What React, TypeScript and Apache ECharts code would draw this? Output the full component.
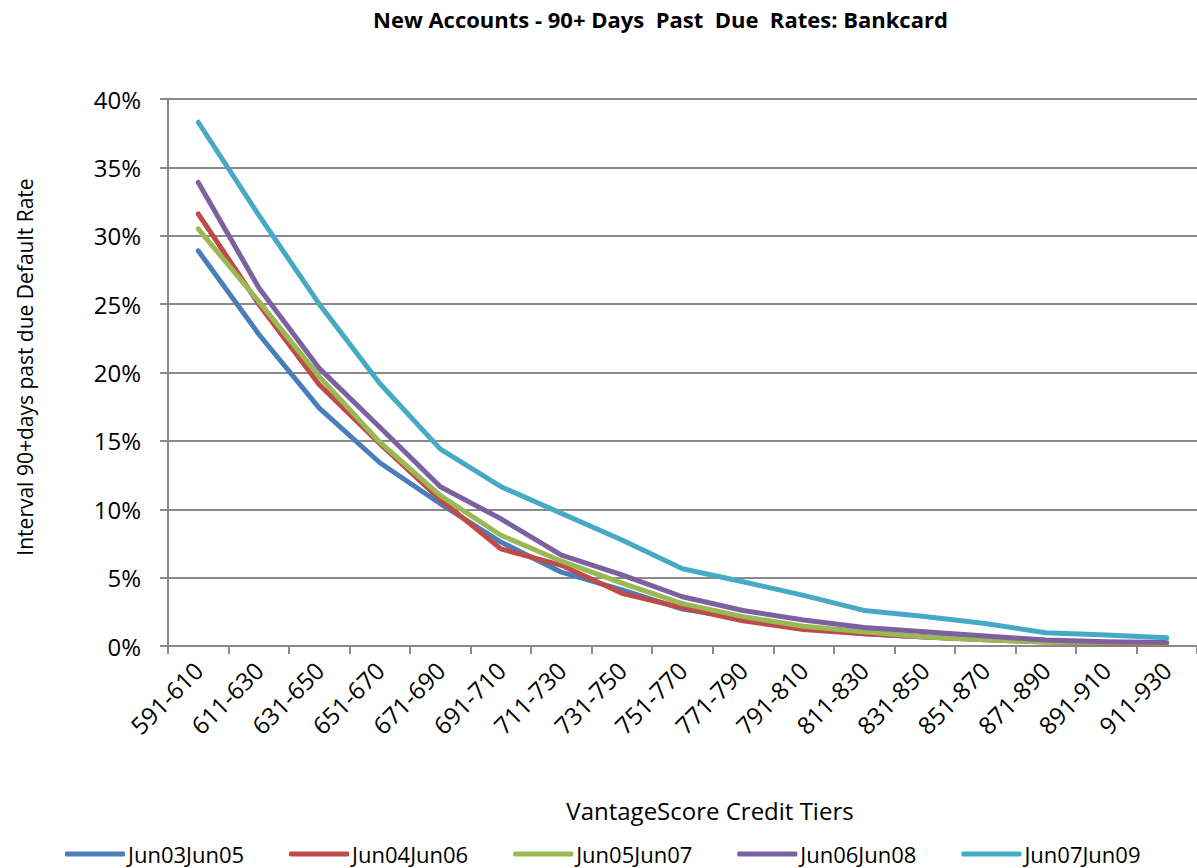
import React, { useEffect, useRef } from "react";
import * as echarts from "echarts";

const categories = [
  "591-610", "611-630", "631-650", "651-670", "671-690", "691-710", "711-730",
  "731-750", "751-770", "771-790", "791-810", "811-830", "831-850", "851-870",
  "871-890", "891-910", "911-930",
];
const seriesNames = ["Jun03Jun05", "Jun04Jun06", "Jun05Jun07", "Jun06Jun08", "Jun07Jun09"];
const jun03Jun05 = [28.9, 22.8, 17.4, 13.4, 10.4, 7.6, 5.4, 4.1, 2.7, 2.0, 1.3, 0.9, 0.65, 0.5, 0.35, 0.25, 0.2];
const jun04Jun06 = [31.6, 25.0, 19.1, 14.8, 10.7, 7.1, 5.9, 3.85, 2.8, 1.85, 1.2, 0.9, 0.65, 0.45, 0.3, 0.2, 0.15];
const jun05Jun07 = [30.5, 25.2, 19.7, 14.9, 11.0, 8.1, 6.2, 4.6, 3.1, 2.15, 1.45, 1.05, 0.65, 0.45, 0.3, 0.25, 0.2];
const jun06Jun08 = [33.9, 26.2, 20.3, 16.0, 11.65, 9.3, 6.65, 5.2, 3.6, 2.6, 1.9, 1.35, 1.05, 0.73, 0.44, 0.31, 0.25];
const jun07Jun09 = [38.3, 31.5, 25.0, 19.2, 14.4, 11.65, 9.7, 7.75, 5.65, 4.7, 3.7, 2.6, 2.15, 1.65, 0.97, 0.8, 0.6];
const seriesData = [jun03Jun05, jun04Jun06, jun05Jun07, jun06Jun08, jun07Jun09];
const colors = ["#4a7ebb", "#be4b48", "#98b954", "#7d60a0", "#46aac5"];

const FONT = "'Open Sans', 'Noto Sans', sans-serif";

export default function App() {
  const ref = useRef<HTMLDivElement>(null);
  useEffect(() => {
    if (!ref.current) return;
    const chart = echarts.init(ref.current, undefined, { renderer: "svg" });
    const gridColor = "#8a8a8a";
    chart.setOption({
      animation: false,
      backgroundColor: "#ffffff",
      textStyle: { fontFamily: FONT },
      title: {
        text: "New Accounts - 90+ Days  Past  Due  Rates: Bankcard",
        left: 373,
        top: 8,
        padding: 0,
        textStyle: { fontFamily: FONT, fontSize: 22, fontWeight: "bold", color: "#000" },
      },
      grid: { left: 168, top: 99, width: 1044, height: 547, containLabel: false },
      xAxis: {
        type: "category",
        data: categories,
        boundaryGap: true,
        axisLine: { show: true, lineStyle: { color: gridColor, width: 2 } },
        axisTick: { show: true, alignWithLabel: false, length: 8, lineStyle: { color: gridColor, width: 2 } },
        axisLabel: { rotate: 45, fontSize: 24, color: "#000", margin: 20, fontFamily: FONT, interval: 0 },
        splitLine: { show: false },
      },
      yAxis: {
        type: "value",
        min: 0,
        max: 40,
        interval: 5,
        axisLine: { show: true, lineStyle: { color: gridColor, width: 2 } },
        axisTick: { show: true, length: 8, lineStyle: { color: gridColor, width: 2 } },
        axisLabel: { formatter: "{value}%", fontSize: 24, color: "#000", margin: 27, fontFamily: FONT },
        splitLine: { show: true, lineStyle: { color: gridColor, width: 2 } },
      },
      legend: {
        left: 65,
        top: 843,
        padding: 0,
        icon: "roundRect",
        itemWidth: 60,
        itemHeight: 5,
        itemGap: 45,
        textStyle: { fontSize: 22, lineHeight: 22, color: "#000", fontFamily: FONT, padding: [0, 0, 0, -2] },
        data: seriesNames,
      },
      graphic: [
        {
          type: "text",
          x: 710,
          y: 810,
          style: { text: "VantageScore Credit Tiers", fontSize: 24, fill: "#000", fontFamily: FONT, align: "center", verticalAlign: "middle" },
        },
        {
          type: "text",
          x: 25,
          y: 367,
          rotation: Math.PI / 2,
          style: { text: "Interval 90+days past due Default Rate", fontSize: 21, fill: "#000", fontFamily: FONT, align: "center", verticalAlign: "middle" },
        },
      ],
      series: seriesNames.map((name, i) => ({
        name,
        type: "line",
        data: seriesData[i],
        symbol: "none",
        smooth: false,
        lineStyle: { width: 5, color: colors[i], cap: "round", join: "round" },
        itemStyle: { color: colors[i] },
      })),
    });
    return () => chart.dispose();
  }, []);
  return (
    <div
      ref={ref}
      style={{ position: "absolute", left: 0, top: 0, width: 1197, height: 868 }}
    />
  );
}
